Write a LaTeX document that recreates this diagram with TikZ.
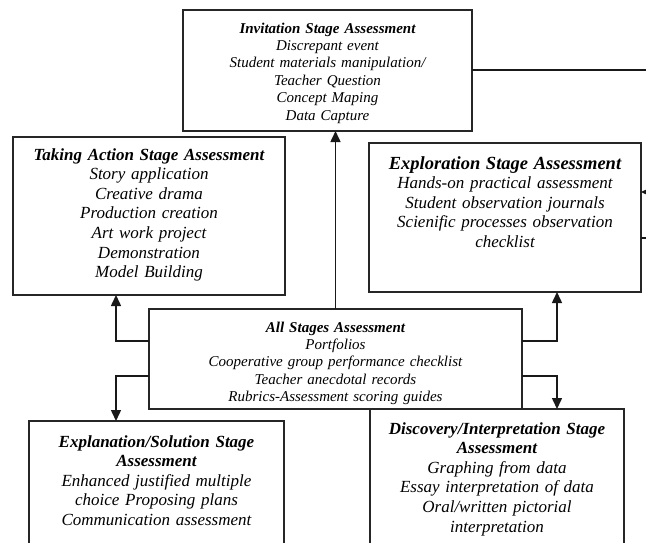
\documentclass[tikz,border=0pt]{standalone}
\usepackage{fontspec}
\setmainfont{Liberation Serif}
\usetikzlibrary{arrows.meta}

\begin{document}
\begin{tikzpicture}[x=1pt,y=-1pt,
    stagebox/.style={draw=black!85,line width=1.4pt,anchor=north west,align=center,
      inner sep=0pt,outer sep=0pt},
    small/.style={font=\fontsize{15}{17.4}\selectfont\itshape},
    large/.style={font=\fontsize{17}{19.6}\selectfont\itshape},
    link/.style={draw=black!90,line width=1.5pt},
    >={Triangle[width=10pt,length=11pt]}]
    \useasboundingbox (0,0) rectangle (646,542);
        \node[stagebox,small,text width=289pt,text height=23pt,text depth=98pt] (inv) at (183,10)
            {\textbf{Invitation Stage Assessment}\\Discrepant event\\Student materials manipulation/\\Teacher Question\\Concept Maping\\Data Capture};
        \node[stagebox,large,text width=272pt,text height=23pt,text depth=135pt] (act) at (13,137)
            {\textbf{Taking Action Stage Assessment}\\Story application\\Creative drama\\Production creation\\Art work project\\Demonstration\\Model Building};
        \node[stagebox,large,text width=272pt,text height=26pt,text depth=123pt] (expl) at (369,143)
            {{\fontsize{18.5}{19.6}\selectfont\textbf{Exploration Stage Assessment}}\\Hands-on practical assessment\\Student observation journals\\Scienific processes observation\\checklist};
        \node[stagebox,small,text width=373pt,text height=23pt,text depth=77pt] (all) at (149,309)
            {\textbf{All Stages Assessment}\\Portfolios\\Cooperative group performance checklist\\Teacher anecdotal records\\Rubrics-Assessment scoring guides};
        \node[stagebox,large,text width=255pt,text height=26pt,text depth=123pt] (sol) at (29,421)
            {\textbf{Explanation/Solution Stage}\\\textbf{Assessment}\\Enhanced justified multiple\\choice Proposing plans\\Communication assessment};
        \node[stagebox,large,text width=254pt,text height=25pt,text depth=136pt] (disc) at (370,409)
            {\textbf{Discovery/Interpretation Stage}\\\textbf{Assessment}\\Graphing from data\\Essay interpretation of data\\Oral/written pictorial\\interpretation};
        \coordinate (lt) at (116,341);
        \coordinate (lb) at (116,376);
        \coordinate (rt) at (557,341);
        \coordinate (rb) at (557,376);
        \coordinate (ie) at (660,70);
        \coordinate (ea) at (660,192);
        \coordinate (eb) at (660,238);
        \draw[link,->] (all.north) -- (all.north |- inv.south);
        \draw[link,->] (all.west |- lt) -| (act.south -| lt);
        \draw[link,->] (all.west |- lb) -| (sol.north -| lb);
        \draw[link,->] (all.east |- rt) -| (expl.south -| rt);
        \draw[link,->] (all.east |- rb) -| (disc.north -| rb);
        \draw[link] (inv.east |- ie) -- (ie);
        \draw[link,->] (ea) -- (expl.east |- ea);
        \draw[link] (expl.east |- eb) -- (eb);
    \end{tikzpicture}
\end{document}
